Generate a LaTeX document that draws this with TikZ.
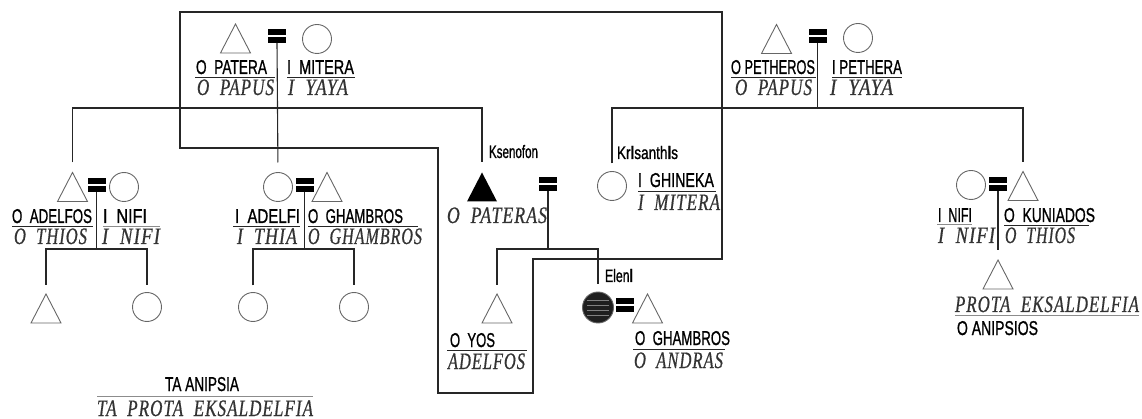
\documentclass[tikz,border=0pt]{standalone}
\usepackage{fontspec}
\usepackage{graphicx}
\newfontfamily\uprf[FakeBold=1.2]{Liberation Sans}
\newfontfamily\itaf[LetterSpace=6,FakeBold=0.8]{Liberation Serif}
\newcommand{\uptxt}[2]{\resizebox{#1pt}{\height}{\fontsize{20}{20}\selectfont\uprf #2}}
\newcommand{\nmtxt}[2]{\resizebox{#1pt}{\height}{\fontsize{18}{18}\selectfont\uprf #2}}
\newcommand{\ittxt}[2]{\resizebox{#1pt}{\height}{\fontsize{23.5}{23.5}\selectfont\itaf\itshape #2}}
\begin{document}
\begin{tikzpicture}[x=1pt,y=-1pt,
  conn/.style={draw=black!85, line width=1.1pt},
  tri/.style={inner sep=0, outer sep=0, minimum width=30pt, minimum height=29pt},
  tridraw/.style={draw=black!60, line width=0.9pt, line join=miter},
  circ/.style={circle, draw=black!60, line width=0.9pt, inner sep=0, outer sep=0, minimum size=29pt},
  eqs/.style={inner sep=0, outer sep=0, minimum width=18pt, minimum height=14pt},
  lab/.style={anchor=base west, inner sep=0, outer sep=0},
  itl/.style={lab, text=black!80},
  uline/.style={draw=black!85, line width=0.9pt},
  gline/.style={draw=black!45, line width=0.9pt}]
\useasboundingbox (0,0) rectangle (1142,419);

% ---- symbols ----
\node[tri] (tPat) at (235.5,38.5) {};
\node[tri] (tPet) at (776.5,39) {};
\node[tri] (tAd) at (72.5,187) {};
\node[tri] (tAc) at (46,308.5) {};
\node[tri] (tGh) at (327,187) {};
\node[tri] (tKs) at (482,187) {};
\node[tri] (tYos) at (497,308.5) {};
\node[tri] (tAndr) at (647.5,308.5) {};
\node[tri] (tKun) at (1023,186) {};
\node[tri] (tAnip) at (998,274.5) {};

\node[circ] (cMit) at (317,39) {};
\node[circ] (cPeth) at (858,38) {};
\node[circ] (cNifi) at (124,187) {};
\node[circ] (cAc2) at (147,307) {};
\node[circ] (cAdelfi) at (278,187) {};
\node[circ] (cC3) at (253,307) {};
\node[circ] (cC4) at (354,307) {};
\node[circ] (cGhin) at (612,186) {};
\node[circ, fill=black!88, minimum size=31pt] (cEleni) at (598,307.5) {};
\node[circ] (cNifiR) at (971,185) {};

\begin{scope}
  \clip (598,307.5) circle[radius=14.5pt];
  \foreach \yy in {300,305,310,315}
    \draw[black!50, line width=0.6pt] (587,\yy) -- (609,\yy);
\end{scope}

\node[eqs] (ePat) at (277,36) {};
\node[eqs] (ePet) at (817.5,36.5) {};
\node[eqs] (eAd) at (96.5,185) {};
\node[eqs] (eAdelfi) at (304.5,185) {};
\node[eqs] (eKs) at (548,184.5) {};
\node[eqs] (eEl) at (624.5,305.5) {};
\node[eqs] (eR) at (998,184) {};

\foreach \t in {tPat,tPet,tAd,tAc,tGh,tYos,tAndr,tKun,tAnip}
  \draw[tridraw] (\t.south west) -- (\t.south east) -- (\t.north) -- cycle;
\fill[black] (tKs.south west) -- (tKs.south east) -- (tKs.north) -- cycle;
\foreach \e in {ePat,ePet,eAd,eAdelfi,eKs,eEl,eR} {
  \fill[black] (\e.north west) rectangle ([yshift=-6pt]\e.north east);
  \fill[black] ([yshift=6pt]\e.south west) rectangle (\e.south east);
}

% ---- junctions ----
\coordinate (jPat) at (277,108);
\coordinate (jPet) at (817.5,108);
\coordinate (jAd) at (96.5,249);
\coordinate (jAdelfi) at (304.5,249);
\coordinate (jKs) at (548,249);

% ---- outline ----
\draw[conn] (180,12) -- (722,12) -- (722,259) -- (533,259) -- (533,393)
  -- (438,393) -- (438,148) -- (180,148) -- cycle;

% ---- connectors ----
\draw[conn, shorten >=10pt] (ePat.south) -- (cAdelfi.north);
\draw[conn, shorten <=10pt, shorten >=10pt] (tAd.north) |- (jPat) -| (tKs.north);
\draw[conn] (ePet.south) -- (jPet);
\draw[conn, shorten <=8pt, shorten >=9pt] (cGhin.north) |- (jPet) -| (tKun.north);
\draw[conn] (eAd.south) -- (jAd);
\draw[conn, shorten <=9pt, shorten >=7pt] (tAc.north) |- (jAd) -| (cAc2.north);
\draw[conn] (eAdelfi.south) -- (jAdelfi);
\draw[conn, shorten <=7pt, shorten >=7pt] (cC3.north) |- (jAdelfi) -| (cC4.north);
\draw[conn] (eKs.south) -- (jKs);
\draw[conn, shorten <=9pt, shorten >=8pt] (tYos.north) |- (jKs) -| (cEleni.north);
\draw[conn, shorten >=10pt] (eR.south) -- (tAnip.north);

% ---- labels ----
\node[lab] (lPatera) at (196,74) {\uptxt{71}{O~~PATERA}};
\node[lab] (lMitera) at (287,74) {\uptxt{67}{I~~MITERA}};
\node[itl] (lPapus) at (197,95) {\ittxt{77}{O~~PAPUS}};
\node[itl] (lYaya) at (288,95) {\ittxt{60}{I~~YAYA}};
\draw[uline] (195,77) -- (275,77);
\draw[uline] (287,77) -- (355,77);

\node[lab] (lPetheros) at (731,74) {\uptxt{84}{O PETHEROS}};
\node[lab] (lPethera) at (832,74) {\uptxt{70}{I PETHERA}};
\node[itl] (lPapus2) at (735,95) {\ittxt{77}{O~~PAPUS}};
\node[itl] (lYaya2) at (830,95) {\ittxt{63}{I~~YAYA}};
\draw[uline] (731,77) -- (816,77);
\draw[uline] (832,77) -- (902,77);

\node[lab] (lAdelfos) at (12,223) {\uptxt{80}{O~~ADELFOS}};
\node[lab] (lNifi) at (103,223) {\uptxt{44}{I~~NIFI}};
\node[itl] (lThios) at (14,244) {\ittxt{73}{O~~THIOS}};
\node[itl] (lNifi2) at (102,244) {\ittxt{58}{I~~NIFI}};
\draw[uline] (12,226) -- (93,226);
\draw[gline] (103,226) -- (160,226);

\node[lab] (lAdelfi) at (235,223) {\uptxt{65}{I~~ADELFI}};
\node[lab] (lGhambros) at (308,223) {\uptxt{95}{O~~GHAMBROS}};
\node[itl] (lThia) at (237,244) {\ittxt{60}{I~~THIA}};
\node[itl] (lGhambros2) at (308,244) {\ittxt{114}{O~~GHAMBROS}};
\draw[uline] (233,226) -- (300,226);
\draw[uline] (308,226) -- (418,226);

\node[lab] (lKsenofon) at (489,158) {\nmtxt{49}{Ksenofon}};
\node[itl] (lPateras) at (447,223) {\ittxt{100}{O~~PATERAS}};

\node[lab] (lKrisanthis) at (617,159) {\nmtxt{61}{Kr{\bfseries l}santh{\bfseries l}s}};
\node[lab] (lGhineka) at (638,187) {\uptxt{76}{I~~GHINEKA}};
\node[itl] (lMitera2) at (638,210) {\ittxt{82}{I~~MITERA}};
\draw[uline] (638,191) -- (716,191);

\node[lab] (lYos) at (450,347) {\uptxt{45}{O~~YOS}};
\node[itl] (lAdelfos2) at (448,369) {\ittxt{77}{ADELFOS}};
\draw[uline] (447,350) -- (527,350);

\node[lab] (lEleni) at (605,282) {\nmtxt{28}{Elen{\bfseries l}}};
\node[lab] (lGhambros3) at (635,345) {\uptxt{95}{O~~GHAMBROS}};
\node[itl] (lAndras) at (634,368) {\ittxt{89}{O~~ANDRAS}};
\draw[uline] (633,349) -- (725,349);

\node[lab] (lNifiR) at (938,222) {\uptxt{34}{I~~NIFI}};
\node[lab] (lKuniados) at (1004,222) {\uptxt{91}{O~~KUNIADOS}};
\node[itl] (lNifiR2) at (938,243) {\ittxt{57}{I~~NIFI}};
\node[itl] (lThiosR) at (1005,243) {\ittxt{70}{O~~THIOS}};
\draw[gline] (937,224) -- (972,224);
\draw[uline] (1004,225) -- (1089,225);

\node[itl] (lProta) at (955,312) {\ittxt{184}{PROTA~~EKSALDELFIA}};
\draw[gline] (955,315) -- (1139,315);
\node[lab] (lAnipsios) at (957,335) {\uptxt{81}{O ANIPSIOS}};

\node[lab] (lTaAnipsia) at (165,391) {\uptxt{74}{TA ANIPSIA}};
\draw[gline] (97,396) -- (313,396);
\node[itl] (lTaProta) at (97,416) {\ittxt{216}{TA~~PROTA~~EKSALDELFIA}};
\end{tikzpicture}
\end{document}
